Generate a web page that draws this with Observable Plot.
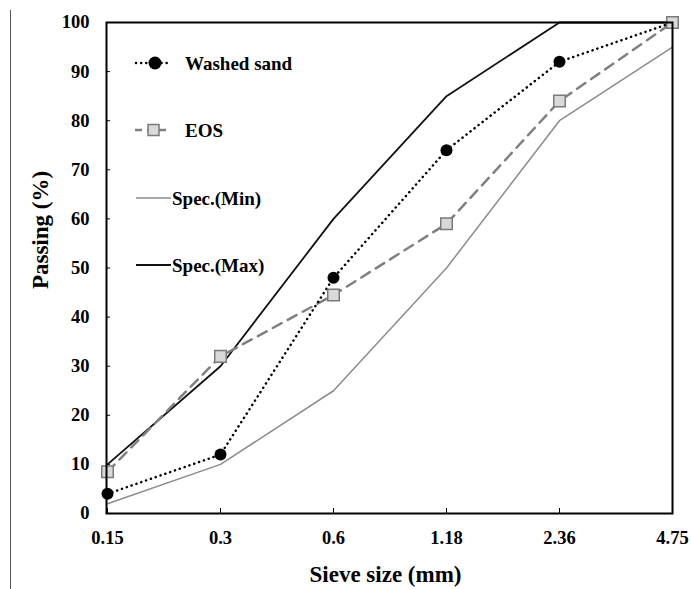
<!DOCTYPE html>
<html>
<head>
<meta charset="utf-8">
<script src="https://cdn.jsdelivr.net/npm/d3@7"></script>
<script src="https://cdn.jsdelivr.net/npm/@observablehq/plot@0.6"></script>
<style>
  html, body { margin: 0; padding: 0; background: #fff; }
  #wrap { position: relative; width: 691px; height: 589px; overflow: hidden; }
  #edge { position: absolute; left: 10px; top: 10px; width: 1px; height: 579px; background: #555; }
  #legend { position: absolute; left: 0; top: 0; }
</style>
</head>
<body>
<div id="wrap"><div id="edge"></div></div>
<script>
const sieveSizes = ["0.15", "0.3", "0.6", "1.18", "2.36", "4.75"];
const washedSand = [4, 12, 48, 74, 92, 100];
const eos = [8.5, 32, 44.5, 59, 84, 100];
const specMin = [2, 10, 25, 50, 80, 95];
const specMax = [10, 30, 60, 85, 100, 100];
const yTicks = [0, 10, 20, 30, 40, 50, 60, 70, 80, 90, 100];
const legendLabels = ["Washed sand", "EOS", "Spec.(Min)", "Spec.(Max)"];
const xTitle = "Sieve size (mm)";
const yTitle = "Passing (%)";

const rows = (vals) => sieveSizes.map((s, i) => ({size: s, value: vals[i]}));
const font = '"Liberation Serif", "Times New Roman", serif';

const chart = Plot.plot({
  width: 691,
  height: 589,
  marginTop: 22,
  marginLeft: 106,
  marginRight: 19,
  marginBottom: 76,
  style: {fontFamily: font, fontWeight: "bold", fontSize: "18.5px", color: "#000", background: "#fff"},
  x: {type: "point", domain: sieveSizes, padding: 0},
  y: {domain: [0, 100]},
  marks: [
    Plot.axisX({tickSize: -5, tickPadding: 22, fontSize: 18.5, label: null}),
    Plot.axisY({ticks: yTicks, tickSize: -4, tickPadding: 21, fontSize: 18.5, label: null}),
    Plot.text([xTitle], {frameAnchor: "bottom", textAnchor: "middle", dx: -4, dy: 68, fontSize: 23, fontWeight: "bold", fill: "#000"}),
    Plot.text([yTitle], {frameAnchor: "left", textAnchor: "middle", rotate: -90, dx: -66, dy: -38, fontSize: 23, fontWeight: "bold", fill: "#000"}),
    Plot.line(rows(specMin), {x: "size", y: "value", stroke: "#8c8c8c", strokeWidth: 1.5}),
    Plot.line(rows(specMax), {x: "size", y: "value", stroke: "#111", strokeWidth: 1.8}),
    Plot.line(rows(eos), {x: "size", y: "value", stroke: "#808080", strokeWidth: 2.5, strokeDasharray: "10 7"}),
    Plot.line(rows(washedSand), {x: "size", y: "value", stroke: "#000", strokeWidth: 2.5, strokeDasharray: "0.1 5", strokeLinecap: "round"}),
    Plot.dot(rows(washedSand), {x: "size", y: "value", r: 6, fill: "#000", stroke: "none"}),
    Plot.dot(rows(eos), {x: "size", y: "value", symbol: "square", r: 6.5, fill: "#d9d9d9", stroke: "#7a7a7a", strokeWidth: 1.5}),
    Plot.frame({stroke: "#000", strokeWidth: 2})
  ]
});
document.getElementById("wrap").appendChild(chart);

// Legend overlay
const ns = "http://www.w3.org/2000/svg";
const leg = document.createElementNS(ns, "svg");
leg.setAttribute("id", "legend");
leg.setAttribute("width", 691);
leg.setAttribute("height", 589);
leg.style.fontFamily = font;
leg.style.fontWeight = "bold";
const el = (tag, attrs) => { const e = document.createElementNS(ns, tag); for (const k in attrs) e.setAttribute(k, attrs[k]); leg.appendChild(e); return e; };
const rowsY = [63, 130, 198, 265];
// Washed sand
el("line", {x1: 136, x2: 168, y1: rowsY[0], y2: rowsY[0], stroke: "#000", "stroke-width": 2.5, "stroke-dasharray": "0.1 5", "stroke-linecap": "round"});
el("circle", {cx: 155, cy: rowsY[0], r: 6.5, fill: "#000"});
// EOS
el("line", {x1: 135, x2: 166, y1: rowsY[1], y2: rowsY[1], stroke: "#808080", "stroke-width": 2.5, "stroke-dasharray": "7 5"});
el("rect", {x: 148, y: rowsY[1] - 5.5, width: 11, height: 11, fill: "#d9d9d9", stroke: "#7a7a7a", "stroke-width": 1.5});
// Spec min / max
el("line", {x1: 136, x2: 171, y1: rowsY[2], y2: rowsY[2], stroke: "#8c8c8c", "stroke-width": 1.5});
el("line", {x1: 136, x2: 171, y1: rowsY[3], y2: rowsY[3], stroke: "#111", "stroke-width": 1.8});
const textX = [185, 185, 172, 172];
legendLabels.forEach((lab, i) => {
  const t = el("text", {x: textX[i], y: rowsY[i], "dominant-baseline": "central", "font-size": 19, fill: "#000"});
  t.textContent = lab;
});
document.getElementById("wrap").appendChild(leg);
</script>
</body>
</html>
